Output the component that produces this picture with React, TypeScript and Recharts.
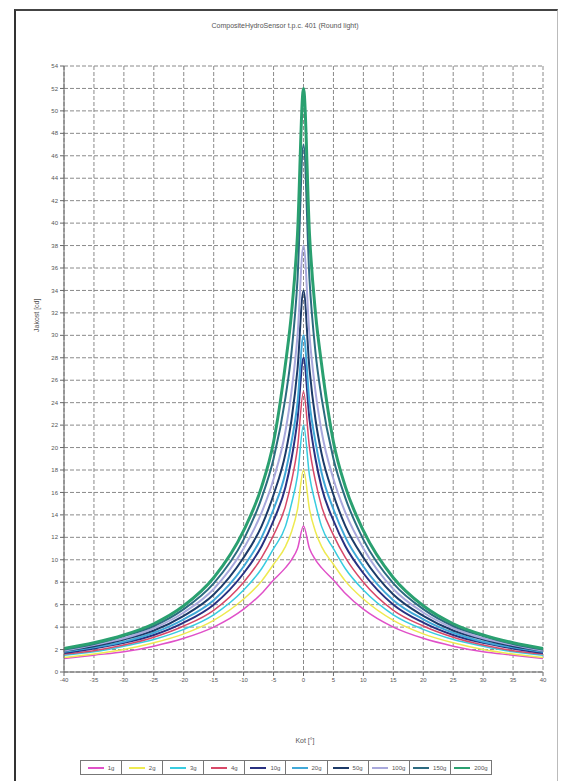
import React from "react";
import { LineChart, Line, XAxis, YAxis, CartesianGrid, Legend } from "recharts";

const angles = [-40, -35, -30, -25, -20, -15, -10, -7, -5, -3, -2, -1, 0, 1, 2, 3, 5, 7, 10, 15, 20, 25, 30, 35, 40];

const s1g = [1.2, 1.5, 1.8, 2.3, 3.0, 4.0, 5.6, 7.0, 8.2, 9.3, 10, 11, 13, 11, 10, 9.3, 8.2, 7.0, 5.6, 4.0, 3.0, 2.3, 1.8, 1.5, 1.2];
const s2g = [1.3, 1.6, 2.0, 2.6, 3.4, 4.6, 6.5, 8.1, 9.6, 11.2, 12.5, 14.5, 18, 14.5, 12.5, 11.2, 9.6, 8.1, 6.5, 4.6, 3.4, 2.6, 2.0, 1.6, 1.3];
const s3g = [1.5, 1.8, 2.3, 2.9, 3.8, 5.1, 7.3, 9.2, 11, 13, 15, 17.5, 22, 17.5, 15, 13, 11, 9.2, 7.3, 5.1, 3.8, 2.9, 2.3, 1.8, 1.5];
const s4g = [1.6, 1.9, 2.4, 3.1, 4.1, 5.5, 8.0, 10.2, 12.2, 14.8, 17, 20, 25, 20, 17, 14.8, 12.2, 10.2, 8.0, 5.5, 4.1, 3.1, 2.4, 1.9, 1.6];
const s10g = [1.7, 2.1, 2.6, 3.3, 4.4, 6.0, 8.8, 11.2, 13.5, 16.5, 19, 22.5, 28, 22.5, 19, 16.5, 13.5, 11.2, 8.8, 6.0, 4.4, 3.3, 2.6, 2.1, 1.7];
const s20g = [1.8, 2.2, 2.7, 3.5, 4.7, 6.4, 9.4, 12, 14.5, 17.8, 20.5, 24, 30, 24, 20.5, 17.8, 14.5, 12, 9.4, 6.4, 4.7, 3.5, 2.7, 2.2, 1.8];
const s50g = [1.9, 2.3, 2.9, 3.7, 5.0, 6.9, 10.2, 13, 15.8, 19.5, 22.5, 27, 34, 27, 22.5, 19.5, 15.8, 13, 10.2, 6.9, 5.0, 3.7, 2.9, 2.3, 1.9];
const s100g = [1.9, 2.4, 3.0, 3.9, 5.3, 7.4, 11, 14.2, 17.2, 21.5, 25, 30, 38, 30, 25, 21.5, 17.2, 14.2, 11, 7.4, 5.3, 3.9, 3.0, 2.4, 1.9];
const s150g = [2.0, 2.5, 3.2, 4.1, 5.6, 7.9, 11.8, 15.5, 19, 24.5, 28.5, 35, 47, 35, 28.5, 24.5, 19, 15.5, 11.8, 7.9, 5.6, 4.1, 3.2, 2.5, 2.0];
const s200g = [2.1, 2.6, 3.3, 4.3, 5.9, 8.4, 12.6, 16.5, 20.5, 27.5, 32, 39, 52, 39, 32, 27.5, 20.5, 16.5, 12.6, 8.4, 5.9, 4.3, 3.3, 2.6, 2.1];

const xTicks = [-40, -35, -30, -25, -20, -15, -10, -5, 0, 5, 10, 15, 20, 25, 30, 35, 40];
const yTicks = [0, 2, 4, 6, 8, 10, 12, 14, 16, 18, 20, 22, 24, 26, 28, 30, 32, 34, 36, 38, 40, 42, 44, 46, 48, 50, 52, 54];

const series = [
  { key: "1g", values: s1g, color: "#e050c8", width: 1.5 },
  { key: "2g", values: s2g, color: "#eeea50", width: 1.5 },
  { key: "3g", values: s3g, color: "#38cce0", width: 1.5 },
  { key: "4g", values: s4g, color: "#d84868", width: 1.5 },
  { key: "10g", values: s10g, color: "#283080", width: 2 },
  { key: "20g", values: s20g, color: "#40a8d8", width: 2 },
  { key: "50g", values: s50g, color: "#1c3a68", width: 2 },
  { key: "100g", values: s100g, color: "#a8a8dc", width: 2 },
  { key: "150g", values: s150g, color: "#2c6a80", width: 2 },
  { key: "200g", values: s200g, color: "#2aa070", width: 3 },
];

const data = angles.map((a, i) => {
  const row: Record<string, number> = { angle: a };
  series.forEach((s) => {
    row[s.key] = s.values[i];
  });
  return row;
});

const font = "'Liberation Sans', Arial, sans-serif";

// Excel-style boxed legend, one cell per series
function BoxLegend() {
  return (
    <div
      style={{
        display: "flex",
        border: "1px solid #777",
        height: 13,
        fontSize: 6,
        color: "#555",
        fontFamily: font,
      }}
    >
      {series.map((s, i) => (
        <div
          key={s.key}
          style={{
            flex: 1,
            display: "flex",
            alignItems: "center",
            justifyContent: "center",
            gap: 4,
            borderLeft: i === 0 ? "none" : "1px solid #777",
          }}
        >
          <svg width={16} height={4}>
            <line x1={0} y1={2} x2={16} y2={2} stroke={s.color} strokeWidth={2} />
          </svg>
          <span>{s.key}</span>
        </div>
      ))}
    </div>
  );
}

export default function App() {
  return (
    <div
      style={{
        position: "absolute",
        left: 0,
        top: 0,
        width: 563,
        height: 781,
        background: "#fff",
        overflow: "hidden",
        fontFamily: font,
      }}
    >
      <div
        style={{
          position: "absolute",
          left: 14,
          top: 9,
          width: 541,
          height: 790,
          borderLeft: "2px solid #333",
          borderTop: "2px solid #444",
          borderRight: "1px solid #bbb",
        }}
      />
      <div
        style={{
          position: "absolute",
          top: 22,
          left: 0,
          width: 570,
          textAlign: "center",
          fontSize: 7,
          color: "#555",
        }}
      >
        CompositeHydroSensor t.p.c. 401 (Round light)
      </div>
      <div
        style={{
          position: "absolute",
          left: 33,
          top: 332,
          fontSize: 7,
          color: "#555",
          transform: "rotate(-90deg)",
          transformOrigin: "0 0",
          whiteSpace: "nowrap",
        }}
      >
        Jakost [cd]
      </div>
      <div
        style={{
          position: "absolute",
          top: 737,
          left: 283,
          width: 44,
          textAlign: "center",
          fontSize: 7,
          color: "#555",
        }}
      >
        Kot [°]
      </div>
      <div style={{ position: "absolute", left: 0, top: 0 }}>
        <LineChart
          width={563}
          height={781}
          data={data}
          margin={{ top: 66, right: 20, bottom: 74, left: 34 }}
        >
          <CartesianGrid stroke="#8a8a8a" strokeDasharray="4 2" />
          <XAxis
            dataKey="angle"
            type="number"
            domain={[-40, 40]}
            ticks={xTicks}
            interval={0}
            stroke="#666"
            tickSize={4}
            tick={{ fontSize: 6, fill: "#555", fontFamily: font }}
            height={20}
          />
          <YAxis
            type="number"
            domain={[0, 54]}
            ticks={yTicks}
            interval={0}
            stroke="#666"
            tickSize={4}
            width={30}
            tick={{ fontSize: 6, fill: "#555", fontFamily: font }}
          />
          <Legend
            content={<BoxLegend />}
            wrapperStyle={{
              position: "absolute",
              top: 760,
              left: 80,
              width: 412,
              height: 15,
            }}
          />
          {series.map((s) => (
            <Line
              key={s.key}
              type="monotone"
              dataKey={s.key}
              stroke={s.color}
              strokeWidth={s.width}
              dot={false}
              isAnimationActive={false}
            />
          ))}
        </LineChart>
      </div>
    </div>
  );
}
